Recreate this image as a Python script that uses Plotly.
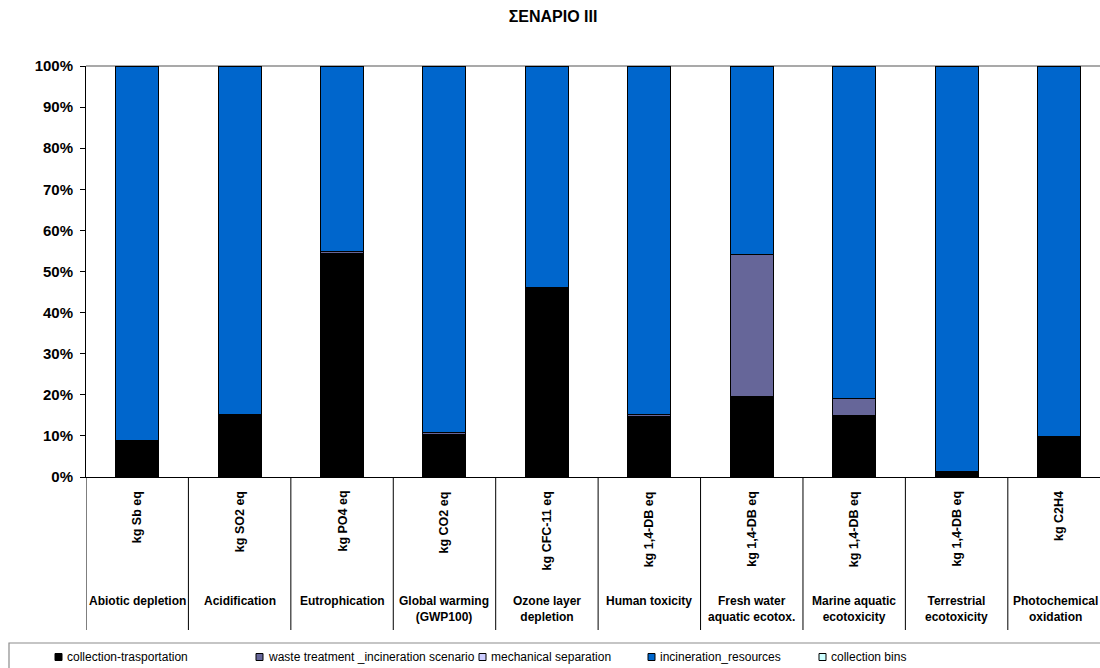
import plotly.graph_objects as go

# Impact categories (CML) and their reference units
categories = [
    "Abiotic depletion", "Acidification", "Eutrophication",
    "Global warming<br>(GWP100)", "Ozone layer<br>depletion", "Human toxicity",
    "Fresh water<br>aquatic ecotox.", "Marine aquatic<br>ecotoxicity",
    "Terrestrial<br>ecotoxicity", "Photochemical<br>oxidation",
]
units = [
    "kg Sb eq", "kg SO2 eq", "kg PO4 eq", "kg CO2 eq", "kg CFC-11 eq",
    "kg 1,4-DB eq", "kg 1,4-DB eq", "kg 1,4-DB eq", "kg 1,4-DB eq", "kg C2H4",
]

# Contribution of each process to every impact category (%)
collection_transport = [9.0, 15.1, 54.3, 10.4, 46.2, 14.8, 19.5, 14.9, 1.4, 9.8]
waste_treatment = [0.0, 0.0, 0.6, 0.4, 0.0, 0.4, 34.7, 4.1, 0.0, 0.0]
mechanical_separation = [0.0, 0.0, 0.0, 0.0, 0.0, 0.0, 0.0, 0.0, 0.0, 0.0]
incineration_resources = [91.0, 84.9, 45.1, 89.2, 53.8, 84.8, 45.8, 81.0, 98.6, 90.2]
collection_bins = [0.0, 0.0, 0.0, 0.0, 0.0, 0.0, 0.0, 0.0, 0.0, 0.0]

y_ticks = [0, 10, 20, 30, 40, 50, 60, 70, 80, 90, 100]
y_tick_labels = [f"<b>{v}%</b>" for v in y_ticks]

series = [
    ("collection-trasportation", collection_transport, "#000000"),
    ("waste treatment _incineration scenario", waste_treatment, "#666699"),
    ("mechanical separation", mechanical_separation, "#CCCCFF"),
    ("incineration_resources", incineration_resources, "#0066CC"),
    ("collection bins", collection_bins, "#CCFFFF"),
]

W, H = 1100, 668
L, R, T, B = 86, 0, 66, 191
PW, PH = W - L - R, H - T - B
FONT = "Liberation Sans, Arial, sans-serif"

# left edge (px) of each key swatch in the legend strip
legend_swatch_left = [55, 256, 479, 648, 819]
LEGEND_ROW = 657


def py(px):
    """Pixel row -> paper y."""
    return (H - B - px) / PH


def pxx(px):
    """Pixel column -> paper x."""
    return (px - L) / PW


xs = list(range(len(categories)))

fig = go.Figure()
for name, vals, color in series:
    fig.add_trace(go.Bar(
        x=xs, y=vals, name=name, width=0.42, showlegend=False,
        marker=dict(color=color, line=dict(color="#000000", width=1)),
    ))

shapes = []
# top border of the plot area
shapes.append(dict(type="line", xref="paper", yref="paper", x0=0, x1=1, y0=1, y1=1,
                   line=dict(color="#8c8c8c", width=1.5), layer="below"))
# category separators running down through the label block
for k in range(len(categories) + 1):
    shapes.append(dict(type="line", xref="x", yref="paper", x0=k - 0.5, x1=k - 0.5,
                       y0=0, y1=py(630), line=dict(color="#000000", width=1)))
# legend frame
shapes.append(dict(type="rect", xref="paper", yref="paper",
                   x0=pxx(9), x1=pxx(1110), y0=py(643), y1=py(680),
                   line=dict(color="#8c8c8c", width=1.2), fillcolor="rgba(0,0,0,0)"))

annotations = []
last = len(categories) - 1
for k, (cat, unit) in enumerate(zip(categories, units)):
    annotations.append(dict(x=k, xref="x", y=py(489), yref="paper", text=f"<b>{unit}</b>",
                            textangle=-90, showarrow=False, yanchor="top", xanchor="center",
                            font=dict(family=FONT, size=12.5, color="#000000")))
    # the last column is clipped by the page edge, keep its name inside
    annotations.append(dict(x=k, xref="x", y=py(592), yref="paper", text=f"<b>{cat}</b>",
                            showarrow=False, yanchor="top", xanchor="center",
                            xshift=-4 if k == last else 0,
                            font=dict(family=FONT, size=12, color="#000000")))

# legend keys: outlined swatch + label
for (name, _, color), x0 in zip(series, legend_swatch_left):
    shapes.append(dict(type="rect", xref="paper", yref="paper",
                       x0=pxx(x0), x1=pxx(x0 + 7),
                       y0=py(LEGEND_ROW + 3.5), y1=py(LEGEND_ROW - 3.5),
                       line=dict(color="#000000", width=1), fillcolor=color))
    annotations.append(dict(x=pxx(x0 + 10), xref="paper", y=py(LEGEND_ROW), yref="paper",
                            text=name, showarrow=False, xanchor="left", yanchor="middle",
                            font=dict(family=FONT, size=12, color="#000000")))

fig.update_layout(
    width=W, height=H,
    margin=dict(l=L, r=R, t=T, b=B, autoexpand=False),
    barmode="stack",
    bargap=0.58,
    paper_bgcolor="#ffffff",
    plot_bgcolor="#ffffff",
    title=dict(text="<b>ΣΕΝΑΡΙΟ III</b>", x=pxx(553), xref="paper", xanchor="center",
               y=1 - 16 / H, yanchor="middle",
               font=dict(family=FONT, size=16, color="#000000")),
    xaxis=dict(range=[-0.5, 9.4], showticklabels=False, ticks="", showgrid=False,
               zeroline=False, showline=True, linecolor="#000000", linewidth=1,
               fixedrange=True),
    yaxis=dict(range=[0, 100], tickvals=y_ticks, ticktext=y_tick_labels,
               ticks="outside", ticklen=5, tickcolor="#000000", tickwidth=1,
               showgrid=False, zeroline=False, showline=True, linecolor="#000000",
               linewidth=1, tickfont=dict(family=FONT, size=15, color="#000000"),
               ticklabelstandoff=4),
    shapes=shapes,
    annotations=annotations,
    showlegend=False,
)

fig.write_html("out.html")
